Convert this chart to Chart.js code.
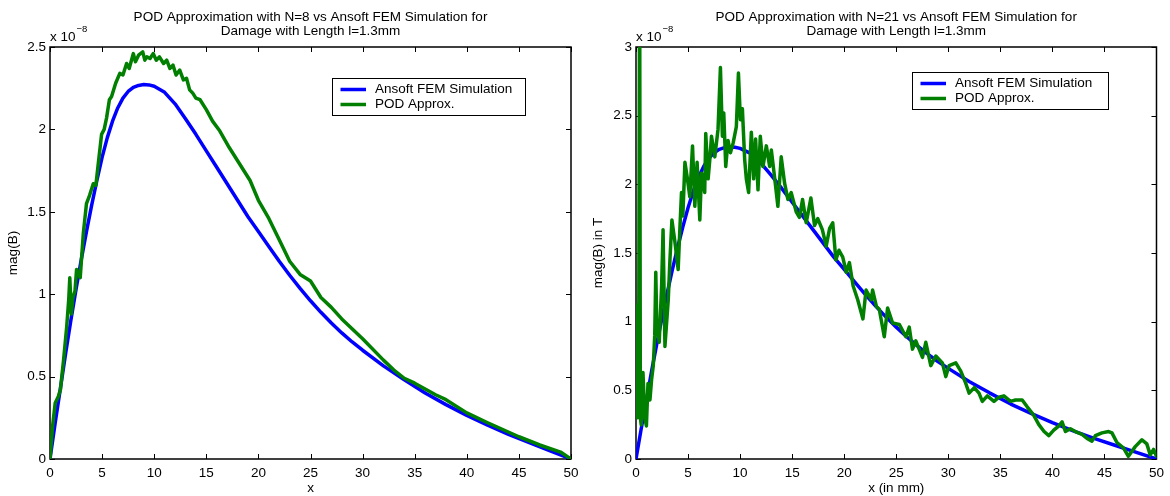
<!DOCTYPE html>
<html>
<head>
<meta charset="utf-8">
<script src="https://cdn.jsdelivr.net/npm/chart.js@4.4.0/dist/chart.umd.min.js"></script>
<style>
  html, body { margin: 0; padding: 0; background: #fff; }
  #wrap { position: relative; width: 1170px; height: 496px; }
  canvas { position: absolute; top: 0; }
  #left { left: 0; }
  #right { left: 585px; }
</style>
</head>
<body>
<div id="wrap">
  <canvas id="left" width="585" height="496"></canvas>
  <canvas id="right" width="585" height="496"></canvas>
</div>
<script>
// FEM reference curve, |B| in units of 1e-8 T (same in both panels)
const femX = [0, 0.5, 1, 1.5, 2, 2.5, 3, 3.5, 4, 4.5, 5, 5.5, 6, 6.5, 7, 7.5, 8, 8.5, 9, 9.5, 10,
  11, 12, 13, 14, 15, 16, 17, 18, 19, 20, 21, 22, 23, 24, 25, 26, 27, 28, 29, 30,
  32, 34, 36, 38, 40, 42, 44, 46, 48, 50];
const femY = [0, 0.22, 0.43, 0.64, 0.84, 1.03, 1.21, 1.38, 1.54, 1.69, 1.83, 1.95, 2.05, 2.13, 2.19, 2.23, 2.255, 2.267, 2.272, 2.27, 2.262,
  2.225, 2.155, 2.065, 1.97, 1.87, 1.77, 1.67, 1.57, 1.47, 1.38, 1.29, 1.2, 1.115, 1.035, 0.96, 0.89, 0.825, 0.765, 0.71, 0.66,
  0.565, 0.48, 0.40, 0.33, 0.265, 0.205, 0.15, 0.1, 0.05, 0];

// POD reconstruction with 8 modes
const pod8X = [0, 0.25, 0.5, 0.8, 1.0, 1.3, 1.6, 1.8, 1.9, 2.05,
  2.2, 2.4, 2.55, 2.9, 3.2, 3.5, 3.8, 4.15, 4.4, 4.63,
  4.95, 5.2, 5.43, 5.7, 5.91, 6.3, 6.7, 7.0, 7.35, 7.6,
  8.0, 8.2, 8.5, 8.9, 9.1, 9.3, 9.6, 9.9, 10.2, 10.5,
  10.9, 11.2, 11.5, 11.8, 12.1, 12.45, 12.8, 13.1, 13.4, 13.7,
  14.0, 14.4, 15.0, 15.6, 16.3, 17.2, 18.2, 19.2, 20.0, 21.0,
  22.0, 23.0, 24.0, 25.0, 26.0, 27.0, 28.0, 30.0, 32.0, 33.0,
  34.0, 35.0, 37.0, 38.0, 40.0, 42.0, 45.0, 47.0, 49.0, 50];
const pod8Y = [0, 0.2, 0.34, 0.38, 0.42, 0.6, 0.8, 0.97, 1.1, 0.88,
  0.98, 1.02, 1.15, 1.1, 1.37, 1.55, 1.6, 1.67, 1.66, 1.79,
  1.97, 2.0, 2.07, 2.18, 2.2, 2.28, 2.34, 2.33, 2.40, 2.37,
  2.46, 2.41, 2.45, 2.47, 2.42, 2.44, 2.43, 2.46, 2.42, 2.44,
  2.40, 2.42, 2.37, 2.39, 2.33, 2.36, 2.30, 2.31, 2.24, 2.22,
  2.19, 2.18, 2.12, 2.05, 1.99, 1.89, 1.79, 1.69, 1.57, 1.46,
  1.33, 1.2, 1.12, 1.08, 0.98, 0.92, 0.85, 0.73, 0.6, 0.54,
  0.49, 0.46, 0.39, 0.36, 0.28, 0.22, 0.135, 0.085, 0.042, 0];

// POD reconstruction with 21 modes
const pod21X = [0, 0.05, 0.15, 0.25, 0.35, 0.42, 0.5, 0.67, 0.85, 1.0,
  1.15, 1.34, 1.5, 1.66, 1.8, 1.9, 2.0, 2.23, 2.46, 2.6,
  2.78, 3.1, 3.26, 3.45, 3.74, 4.05, 4.2, 4.37, 4.5, 4.7,
  4.9, 5.17, 5.43, 5.65, 5.87, 6.13, 6.29, 6.6, 6.7, 6.93,
  7.09, 7.25, 7.57, 7.88, 8.11, 8.3, 8.43, 8.62, 8.84, 9.07,
  9.33, 9.64, 9.84, 10.03, 10.22, 10.44, 10.6, 10.82, 11.08, 11.3,
  11.49, 11.72, 11.94, 12.2, 12.52, 12.84, 13.0, 13.3, 13.63, 13.95,
  14.27, 14.59, 14.91, 15.39, 15.7, 16.0, 16.35, 16.8, 17.15, 17.46,
  17.9, 18.27, 18.6, 18.9, 19.2, 19.5, 19.86, 20.2, 20.5, 20.86,
  21.3, 21.8, 22.1, 22.6, 22.73, 23.1, 23.37, 23.85, 24.17, 24.65,
  25.29, 25.93, 26.25, 26.56, 26.88, 27.52, 27.84, 28.32, 28.8, 29.43,
  29.76, 30.08, 30.72, 31.2, 31.68, 32.0, 32.5, 32.95, 33.27, 33.75,
  34.39, 34.87, 35.34, 35.98, 36.46, 37.1, 37.58, 38.2, 38.7, 39.2,
  39.66, 40.13, 40.6, 40.93, 41.25, 41.73, 42.2, 42.85, 43.33, 43.8,
  44.13, 44.76, 45.4, 45.72, 46.2, 46.84, 47.3, 47.96, 48.6, 49.07,
  49.4, 49.72, 50];
const pod21Y = [0.78, 1.12, 0.3, 0.55, 3.6, 0.3, 0.25, 0.63, 0.3, 0.24,
  0.55, 0.43, 0.58, 0.68, 0.9, 1.36, 0.97, 0.85, 1.26, 1.67,
  0.82, 1.16, 1.45, 1.74, 1.58, 1.38, 1.65, 1.94, 1.77, 2.16,
  2.06, 1.91, 2.28, 1.84, 2.16, 1.74, 2.08, 1.94, 2.37, 2.04,
  2.18, 2.35, 2.2, 2.40, 2.85, 2.35, 2.52, 2.13, 2.32, 2.23,
  2.30, 2.42, 2.81, 2.47, 2.55, 2.18, 2.04, 1.94, 2.38, 2.04,
  2.33, 1.96, 2.35, 2.13, 2.28, 2.13, 2.25, 2.06, 1.84, 2.2,
  2.01, 1.89, 1.94, 1.80, 1.76, 1.89, 1.72, 1.90, 1.70, 1.75,
  1.67, 1.55, 1.68, 1.72, 1.45, 1.52, 1.47, 1.36, 1.43, 1.26,
  1.16, 1.02, 1.23, 1.16, 1.23, 1.11, 1.09, 0.89, 1.10, 0.99,
  0.98, 0.89, 0.96, 0.80, 0.86, 0.74, 0.85, 0.68, 0.75, 0.70,
  0.60, 0.68, 0.70, 0.64, 0.55, 0.48, 0.52, 0.48, 0.42, 0.46,
  0.42, 0.45, 0.46, 0.42, 0.43, 0.43, 0.38, 0.32, 0.25, 0.20,
  0.17, 0.21, 0.24, 0.27, 0.20, 0.22, 0.20, 0.18, 0.15, 0.13,
  0.17, 0.19, 0.20, 0.19, 0.12, 0.08, 0.02, 0.09, 0.14, 0.11,
  0.03, 0.07, 0.02];

const xTicks = [0, 5, 10, 15, 20, 25, 30, 35, 40, 45, 50];
const seriesNames = ['Ansoft FEM Simulation', 'POD Approx.'];
const seriesColors = ['#0000ff', '#007f00'];

const FONT = 'Liberation Sans, Arial, Helvetica, sans-serif';
const FS = 13.5;

const toPoints = (xs, ys) => xs.map((x, i) => ({ x, y: ys[i] }));

// Box around the axes with inward tick marks on all four sides
const axesFrame = {
  id: 'axesFrame',
  beforeDatasetsDraw(chart) {
    const { ctx, chartArea: a, scales: { x, y } } = chart;
    ctx.save();
    ctx.strokeStyle = '#000';
    ctx.lineWidth = 1;
    ctx.beginPath();
    x.ticks.forEach(t => {
      const px = Math.round(x.getPixelForValue(t.value)) + 0.5;
      ctx.moveTo(px, a.bottom); ctx.lineTo(px, a.bottom - 5);
      ctx.moveTo(px, a.top); ctx.lineTo(px, a.top + 5);
    });
    y.ticks.forEach(t => {
      const py = Math.round(y.getPixelForValue(t.value)) + 0.5;
      ctx.moveTo(a.left, py); ctx.lineTo(a.left + 5, py);
      ctx.moveTo(a.right, py); ctx.lineTo(a.right - 5, py);
    });
    ctx.stroke();
    ctx.lineWidth = 1.5;
    ctx.strokeRect(a.left, a.top, a.width, a.height);
    ctx.restore();
  }
};

// "x 10^-8" multiplier above the y axis
const exponentLabel = {
  id: 'exponentLabel',
  afterDraw(chart) {
    const { ctx, chartArea: a } = chart;
    ctx.save();
    ctx.fillStyle = '#000';
    ctx.textBaseline = 'middle';
    ctx.font = FS + 'px ' + FONT;
    ctx.fillText('x 10', a.left, a.top - 10);
    const w = ctx.measureText('x 10').width;
    ctx.font = '9.5px ' + FONT;
    ctx.fillText('\u22128', w + a.left + 1, a.top - 18);
    ctx.restore();
  }
};

// Boxed legend placed inside the plot
const boxLegend = {
  id: 'boxLegend',
  afterDraw(chart, args, opts) {
    const { ctx } = chart;
    const { x, y, w, h } = opts;
    ctx.save();
    ctx.fillStyle = '#fff';
    ctx.fillRect(x, y, w, h);
    ctx.strokeStyle = '#000';
    ctx.lineWidth = 1;
    ctx.strokeRect(x + 0.5, y + 0.5, w, h);
    ctx.font = FS + 'px ' + FONT;
    ctx.textBaseline = 'middle';
    chart.data.datasets.forEach((ds, i) => {
      const ry = y + 11.5 + i * 15;
      ctx.strokeStyle = ds.borderColor;
      ctx.lineWidth = 3.5;
      ctx.beginPath();
      ctx.moveTo(x + 8.5, ry);
      ctx.lineTo(x + 34, ry);
      ctx.stroke();
      ctx.fillStyle = '#000';
      ctx.fillText(ds.label, x + 43, ry);
    });
    ctx.restore();
  }
};

function makeChart(id, cfg) {
  const font = { family: FONT, size: FS };
  return new Chart(document.getElementById(id), {
    type: 'line',
    data: {
      datasets: [
        { label: seriesNames[0], data: toPoints(femX, femY), borderColor: seriesColors[0], order: 1 },
        { label: seriesNames[1], data: toPoints(cfg.podX, cfg.podY), borderColor: seriesColors[1], order: 0 }
      ]
    },
    options: {
      responsive: false,
      animation: false,
      events: [],
      layout: { padding: { left: 0, right: cfg.padRight, top: 0, bottom: 0 } },
      elements: {
        point: { radius: 0 },
        line: { borderWidth: 3.5, tension: 0, borderJoinStyle: 'round', borderCapStyle: 'round', fill: false }
      },
      scales: {
        x: {
          type: 'linear', min: 0, max: 50,
          afterBuildTicks: s => { s.ticks = xTicks.map(v => ({ value: v })); },
          ticks: { color: '#000', font, padding: 6, maxRotation: 0, autoSkip: false, callback: v => String(v) },
          grid: { display: false, drawTicks: false },
          border: { display: false },
          title: { display: true, text: cfg.xTitle, color: '#000', font, padding: { top: 0, bottom: 0 } },
          afterFit: s => { s.height = 37; }
        },
        y: {
          type: 'linear', min: 0, max: cfg.yMax,
          afterBuildTicks: s => { s.ticks = cfg.yTicks.map(v => ({ value: v })); },
          ticks: { color: '#000', font, padding: 4, callback: v => String(v) },
          grid: { display: false, drawTicks: false },
          border: { display: false },
          title: { display: true, text: cfg.yTitle, color: '#000', font, padding: { top: 5, bottom: 0 } },
          afterFit: s => { s.width = cfg.yWidth; }
        }
      },
      plugins: {
        legend: { display: false },
        tooltip: { enabled: false },
        title: {
          display: true,
          fullSize: false,
          text: cfg.title,
          color: '#000',
          font: { family: FONT, size: FS, weight: 'normal', lineHeight: 1 },
          padding: { top: 11, bottom: 9 }
        },
        boxLegend: cfg.legend
      }
    },
    plugins: [axesFrame, exponentLabel, boxLegend]
  });
}

makeChart('left', {
  podX: pod8X, podY: pod8Y,
  yMax: 2.5, yTicks: [0, 0.5, 1, 1.5, 2, 2.5],
  yWidth: 50, padRight: 14,
  xTitle: 'x', yTitle: 'mag(B)',
  title: ['POD Approximation with N=8 vs Ansoft FEM Simulation for', 'Damage with Length l=1.3mm'],
  legend: { x: 332, y: 78, w: 193, h: 37 }
});

makeChart('right', {
  podX: pod21X, podY: pod21Y,
  yMax: 3, yTicks: [0, 0.5, 1, 1.5, 2, 2.5, 3],
  yWidth: 51, padRight: 13,
  xTitle: 'x (in mm)', yTitle: 'mag(B) in T',
  title: ['POD Approximation with N=21 vs Ansoft FEM Simulation for', 'Damage with Length l=1.3mm'],
  legend: { x: 327, y: 72, w: 196, h: 37 }
});
</script>
</body>
</html>
